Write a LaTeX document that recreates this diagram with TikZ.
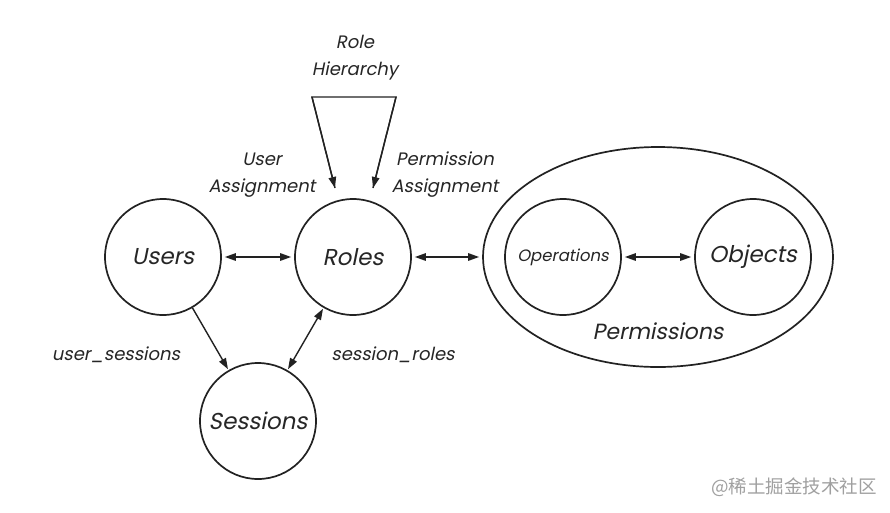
\documentclass[tikz,border=0pt]{standalone}
\usepackage{fontspec}
\setmainfont{Poppins}[FakeSlant=0.2]
\newfontfamily\cjk{Noto Sans CJK SC}
\usetikzlibrary{arrows.meta,shapes.geometric}
\definecolor{ink}{HTML}{222222}
\definecolor{txt}{HTML}{262626}
\definecolor{wm}{HTML}{A0A0A0}
\tikzset{
  ent/.style={circle,draw=ink,line width=1.7pt,minimum size=116pt,inner sep=0pt,text=txt,font=\fontsize{23}{26}\selectfont},
  lbl/.style={text=txt,font=\fontsize{18}{27}\selectfont,align=center,inner sep=0pt},
  conn/.style={draw=ink,line width=1.4pt},
  tip/.style={-{Triangle[length=11pt,width=7.5pt]}},
  both/.style={{Triangle[length=11pt,width=7.5pt]}-{Triangle[length=11pt,width=7.5pt]}}
}
\begin{document}
\begin{tikzpicture}[x=1pt,y=-1pt]
\useasboundingbox (0,0) rectangle (890,512);
\fill[white] (0,0) rectangle (890,512);
\node[ent] (users) at (163,257) {Users};
\node[ent] (roles) at (353,257) {Roles};
\node[ent] (sessions) at (258,421) {Sessions};
\node[ellipse,draw=ink,line width=1.7pt,minimum width=350pt,minimum height=220pt,inner sep=0pt] (perm) at (658,257) {};
\node[ent,font=\fontsize{16.5}{20}\selectfont] (ops) at (563,257) {Operations};
\node[ent] (objs) at (753,257) {Objects};
\node[text=txt,font=\fontsize{22}{26}\selectfont,inner sep=0pt] (permlbl) at (658,331) {Permissions};
\node[lbl] (rh) at (355,58) {Role\\Hierarchy};
\node[lbl] (ua) at (262,175) {User\\Assignment};
\node[lbl] (pa) at (445,175) {Permission\\Assignment};
\node[lbl] (us) at (116,355) {user\_sessions};
\node[lbl] (sr) at (393,355) {session\_roles};
\node[text=wm,font=\cjk\fontsize{18.5}{22}\selectfont,inner sep=0pt] (mark) at (794,487) {@稀土掘金技术社区};
\coordinate (rhL) at (312,97);
\coordinate (rhR) at (396,97);
\coordinate (tipL) at (335,188);
\coordinate (tipR) at (373,188);
\draw[conn,line join=miter] (tipL) -- (rhL) -- (rhR) -- (tipR);
\draw[conn,tip] (rhL) -- (tipL);
\draw[conn,tip] (rhR) -- (tipR);
\draw[conn,both,shorten <=3pt,shorten >=3pt] (users) -- (roles);
\draw[conn,both,shorten <=3pt,shorten >=3pt] (roles) -- (perm);
\draw[conn,both,shorten <=3pt,shorten >=3pt] (ops) -- (objs);
\draw[conn,tip,shorten >=1pt] (users) -- (sessions);
\draw[conn,both,shorten <=1pt,shorten >=1pt] (sessions) -- (roles);
\end{tikzpicture}
\end{document}
